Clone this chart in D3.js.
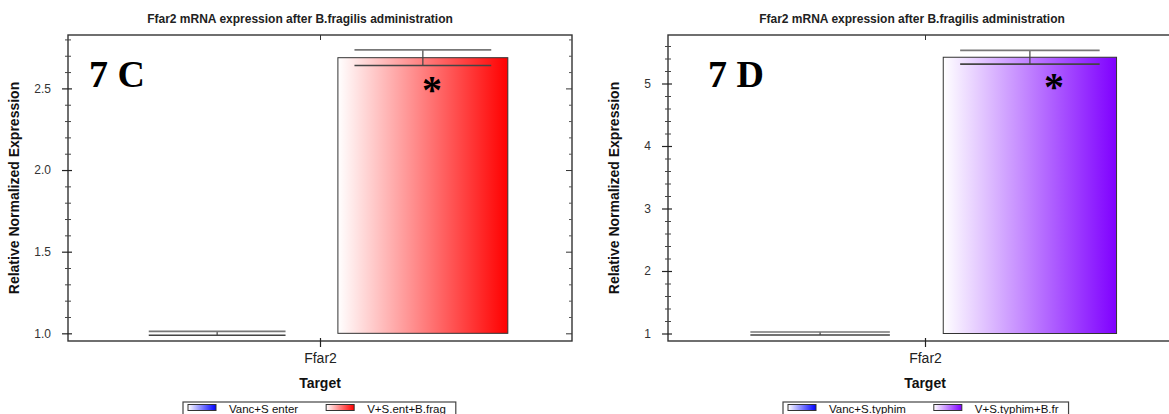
<!DOCTYPE html>
<html>
<head>
<meta charset="utf-8">
<script src="https://cdn.jsdelivr.net/npm/d3@7"></script>
<style>
  body { margin: 0; background: #fff; }
  svg { display: block; }
  text { font-family: Arial, "Liberation Sans", sans-serif; }
</style>
</head>
<body>
<svg id="chart" width="1169" height="414"></svg>
<script>
// Data
const chartTitle = 'Ffar2 mRNA expression after B.fragilis administration'
const targets = ['Ffar2']

const seriesC = ['Vanc+S enter', 'V+S.ent+B.frag']
const meanC = [1.0, 2.688]
const errC = [0.012, 0.048]
const colorsC = ['#0000ff', '#ff0000']
const ticksC = [1.0, 1.5, 2.0, 2.5]

const seriesD = ['Vanc+S.typhim', 'V+S.typhim+B.fr']
const meanD = [1.0, 5.42]
const errD = [0.025, 0.11]
const colorsD = ['#0000ff', '#7f00ff']
const ticksD = [1, 2, 3, 4, 5]

// Layout of the two panels
const panels = [
  { id: 'c', label: '7 C', series: seriesC, means: meanC, errs: errC, colors: colorsC,
    ticks: ticksC, minorStep: 0.1, yDomain: [0.953, 2.827], fmt: d3.format('.1f'),
    left: 68, right: 572, titleX: 300, labelX: 89, star: [432, 83], legendX: 183 },
  { id: 'd', label: '7 D', series: seriesD, means: meanD, errs: errD, colors: colorsD,
    ticks: ticksD, minorStep: 0.2, yDomain: [0.88, 5.776], fmt: d3.format('d'),
    left: 668, right: 1182, titleX: 912, labelX: 708, star: [1054, 80], legendX: 783 }
]
const plotTop = 35
const plotBottom = 341
const baseline = 1

const svg = d3.select('#chart')
const defs = svg.append('defs')

panels.forEach(p => {
  p.colors.forEach((c, i) => {
    const g = defs.append('linearGradient')
      .attr('id', `grad-${p.id}-${i}`)
      .attr('x1', '0%').attr('x2', '100%').attr('y1', '0%').attr('y2', '0%')
    g.append('stop').attr('offset', '0%').attr('stop-color', '#ffffff')
    g.append('stop').attr('offset', '100%').attr('stop-color', c)
  })
})

const drawPanel = p => {
  const g = svg.append('g')
  const W = p.right - p.left

  const y = d3.scaleLinear().domain(p.yDomain).range([plotBottom, plotTop])
  const xOuter = d3.scalePoint().domain(targets).range([p.left, p.right]).padding(0.5)
  const xInner = d3.scaleBand().domain(p.series).range([p.left, p.right])
    .paddingInner(0.174).paddingOuter(0.312)

  const minor = d3.range(Math.ceil(p.yDomain[0] / p.minorStep - 1e-6), Math.floor(p.yDomain[1] / p.minorStep + 1e-6) + 1)
    .map(i => +(i * p.minorStep).toFixed(3))
    .filter(v => !p.ticks.some(t => Math.abs(t - v) < 1e-6))

  // bars
  const data = p.series.map((s, i) => ({ s, i, v: p.means[i], e: p.errs[i] }))
  g.selectAll('rect.bar')
    .data(data)
    .enter()
    .append('rect')
    .attr('class', 'bar')
    .attr('x', d => xInner(d.s))
    .attr('width', xInner.bandwidth())
    .attr('y', d => Math.min(y(d.v), y(baseline)))
    .attr('height', d => Math.abs(y(d.v) - y(baseline)))
    .attr('fill', d => `url(#grad-${p.id}-${d.i})`)
    .attr('stroke', '#333')
    .attr('stroke-width', 1)

  // error bars
  const capW = xInner.bandwidth() * 0.805
  const eb = g.selectAll('g.err').data(data).enter().append('g').attr('class', 'err')
  eb.append('line')
    .attr('x1', d => xInner(d.s) + xInner.bandwidth() / 2)
    .attr('x2', d => xInner(d.s) + xInner.bandwidth() / 2)
    .attr('y1', d => y(d.v + d.e))
    .attr('y2', d => y(d.v - d.e))
    .attr('stroke', '#444').attr('stroke-width', 1.2)
  ;[1, -1].forEach(sgn => {
    eb.append('line')
      .attr('x1', d => xInner(d.s) + (xInner.bandwidth() - capW) / 2)
      .attr('x2', d => xInner(d.s) + (xInner.bandwidth() + capW) / 2)
      .attr('y1', d => y(d.v + sgn * d.e))
      .attr('y2', d => y(d.v + sgn * d.e))
      .attr('stroke', sgn > 0 ? '#777' : '#444')
      .attr('stroke-width', 1.6)
  })

  // frame
  g.append('rect')
    .attr('x', p.left).attr('y', plotTop)
    .attr('width', W).attr('height', plotBottom - plotTop)
    .attr('fill', 'none').attr('stroke', '#333').attr('stroke-width', 1.4)

  // left axis
  const yAxis = g.append('g')
    .attr('transform', `translate(${p.left},0)`)
    .call(d3.axisLeft(y).tickValues(p.ticks).tickFormat(p.fmt).tickSize(6).tickPadding(11))
  yAxis.select('.domain').remove()
  yAxis.selectAll('line').attr('x1', 4).attr('stroke', '#222').attr('stroke-width', 1.2)
  yAxis.selectAll('text').attr('font-size', 12).attr('fill', '#333')

  const yMinor = g.append('g')
    .attr('transform', `translate(${p.left},0)`)
    .call(d3.axisLeft(y).tickValues(minor).tickFormat('').tickSize(3))
  yMinor.select('.domain').remove()
  yMinor.selectAll('line').attr('x1', 3).attr('stroke', '#444')

  // right axis (ticks point inward)
  const yRight = g.append('g')
    .attr('transform', `translate(${p.right},0)`)
    .call(d3.axisLeft(y).tickValues(p.ticks).tickFormat('').tickSize(6))
  yRight.select('.domain').remove()
  yRight.selectAll('line').attr('stroke', '#333')
  const yRightMinor = g.append('g')
    .attr('transform', `translate(${p.right},0)`)
    .call(d3.axisLeft(y).tickValues(minor).tickFormat('').tickSize(3))
  yRightMinor.select('.domain').remove()
  yRightMinor.selectAll('line').attr('stroke', '#555')

  // x axes
  const xAxis = g.append('g')
    .attr('transform', `translate(0,${plotBottom})`)
    .call(d3.axisBottom(xOuter).tickSize(6).tickPadding(6))
  xAxis.select('.domain').remove()
  xAxis.selectAll('line').attr('y1', -3).attr('stroke', '#222').attr('stroke-width', 1.2)
  xAxis.selectAll('text').attr('font-size', 14).attr('fill', '#222')

  const xTop = g.append('g')
    .attr('transform', `translate(0,${plotTop})`)
    .call(d3.axisBottom(xOuter).tickSize(5).tickFormat(''))
  xTop.select('.domain').remove()
  xTop.selectAll('line').attr('stroke', '#333')

  // titles
  g.append('text')
    .attr('x', p.titleX).attr('y', 23)
    .attr('text-anchor', 'middle')
    .attr('font-size', 12).attr('font-weight', 'bold').attr('fill', '#222')
    .text(chartTitle)

  g.append('text')
    .attr('transform', `translate(${p.left - 49},${(plotTop + plotBottom) / 2}) rotate(-90)`)
    .attr('text-anchor', 'middle')
    .attr('font-size', 14).attr('font-weight', 'bold').attr('fill', '#111')
    .text('Relative Normalized Expression')

  g.append('text')
    .attr('x', xOuter(targets[0])).attr('y', 388)
    .attr('text-anchor', 'middle')
    .attr('font-size', 14).attr('font-weight', 'bold').attr('fill', '#111')
    .text('Target')

  // panel label and significance mark
  g.append('text')
    .attr('x', p.labelX).attr('y', 87)
    .style('font-family', '"Liberation Serif", "Times New Roman", serif')
    .attr('font-size', 38).attr('font-weight', 'bold').attr('fill', '#000')
    .text(p.label)

  g.append('text')
    .attr('x', p.star[0]).attr('y', p.star[1] + 20)
    .attr('text-anchor', 'middle')
    .style('font-family', '"Liberation Serif", "Times New Roman", serif')
    .attr('font-size', 40).attr('font-weight', 'bold').attr('fill', '#000')
    .text('*')

  // legend
  const leg = g.append('g')
  const legBox = leg.append('rect')
    .attr('y', 402).attr('height', 24)
    .attr('fill', '#fff').attr('stroke', '#444').attr('stroke-width', 1.2)
  let cx = p.legendX + 5
  p.series.forEach((s, i) => {
    leg.append('rect')
      .attr('x', cx).attr('y', 404.5).attr('width', 28).attr('height', 6)
      .attr('fill', `url(#grad-${p.id}-${i})`)
      .attr('stroke', '#333').attr('stroke-width', 1)
    const t = leg.append('text')
      .attr('x', cx + 41).attr('y', 412.5)
      .attr('font-size', 11.5).attr('fill', '#111')
      .text(s)
    cx += 41 + t.node().getComputedTextLength() + 28
  })
  legBox.attr('x', p.legendX).attr('width', cx - 28 + 10 - p.legendX)
}

panels.forEach(drawPanel)
</script>
</body>
</html>
